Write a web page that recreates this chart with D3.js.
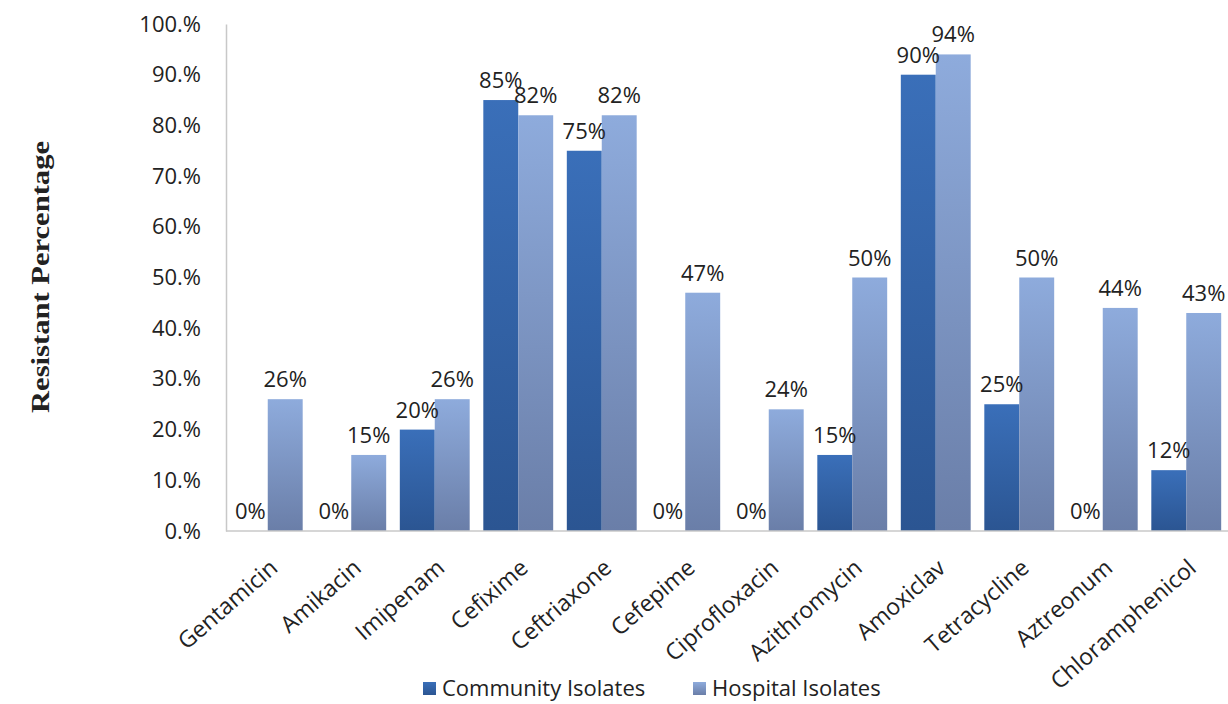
<!DOCTYPE html>
<html>
<head>
<meta charset="utf-8">
<script src="https://cdn.jsdelivr.net/npm/d3@7"></script>
<style>
  body { margin: 0; background: #fff; }
  text { font-family: "Open Sans", "DejaVu Sans", sans-serif; fill: #222; }
</style>
</head>
<body>
<svg id="chart"></svg>
<script>
// data
var drugs = ["Gentamicin", "Amikacin", "Imipenam", "Cefixime", "Ceftriaxone", "Cefepime",
  "Ciprofloxacin", "Azithromycin", "Amoxiclav", "Tetracycline", "Aztreonum", "Chloramphenicol"];
var community = [0, 0, 20, 85, 75, 0, 0, 15, 90, 25, 0, 12];
var hospital = [26, 15, 26, 82, 82, 47, 24, 50, 94, 50, 44, 43];
var seriesNames = ["Community Isolates", "Hospital Isolates"];
var yTicks = [0, 10, 20, 30, 40, 50, 60, 70, 80, 90, 100];

var width = 1228, height = 704;
var margin = {top: 24, right: 0, bottom: 173, left: 226};

var svg = d3.select("#chart").attr("width", width).attr("height", height);

// gradients -------------------------------------------------------
var defs = svg.append("defs");
var grads = [["gComm", "#3a6fb9", "#2b5592"], ["gHosp", "#8eabdc", "#6a7ea8"]];
grads.forEach(function(g) {
  var lg = defs.append("linearGradient").attr("id", g[0])
    .attr("x1", 0).attr("y1", 0).attr("x2", 0).attr("y2", 1);
  lg.append("stop").attr("offset", "0%").attr("stop-color", g[1]);
  lg.append("stop").attr("offset", "100%").attr("stop-color", g[2]);
});

// scales ----------------------------------------------------------
var x = d3.scaleBand()
  .domain(drugs)
  .range([margin.left, width - margin.right])
  .paddingInner(0)
  .paddingOuter(0);

var inner = d3.scaleBand()
  .domain([0, 1])
  .range([0, x.bandwidth()])
  .paddingOuter(0.195)
  .paddingInner(0);

var y = d3.scaleLinear()
  .domain([0, 100])
  .range([height - margin.bottom, margin.top]);

// y axis
var yAxis = svg.append("g")
  .attr("transform", "translate(" + margin.left + ",0)")
  .call(d3.axisLeft(y).tickValues(yTicks).tickSize(0).tickPadding(25)
    .tickFormat(function(d) { return d + ".%"; }));
yAxis.select(".domain").attr("stroke", "#c8c8c8").attr("stroke-width", 1.5);
yAxis.selectAll("text").style("font-size", "22px").attr("fill", "#222")
  .style("font-family", "'Open Sans', sans-serif");

// bars ------------------------------------------------------------
var rows = [];
drugs.forEach(function(d, i) {
  rows.push({drug: d, s: 0, v: community[i]});
  rows.push({drug: d, s: 1, v: hospital[i]});
});

svg.append("g").selectAll("rect")
  .data(rows.filter(function(r) { return r.v > 0; }))
  .enter().append("rect")
  .attr("x", function(r) { return x(r.drug) + inner(r.s); })
  .attr("y", function(r) { return y(r.v); })
  .attr("width", inner.bandwidth())
  .attr("height", function(r) { return y(0) - y(r.v); })
  .attr("fill", function(r) { return r.s === 0 ? "url(#gComm)" : "url(#gHosp)"; });

// x axis baseline
svg.append("line")
  .attr("x1", margin.left).attr("x2", width)
  .attr("y1", y(0)).attr("y2", y(0))
  .attr("stroke", "#c8c8c8").attr("stroke-width", 1.5);

// value labels
svg.append("g").selectAll("text")
  .data(rows)
  .enter().append("text")
  .attr("x", function(r) { return x(r.drug) + inner(r.s) + inner.bandwidth() / 2; })
  .attr("y", function(r) { return y(r.v) - 12; })
  .attr("text-anchor", "middle")
  .style("font-size", "22px")
  .text(function(r) { return r.v + "%"; });

// category labels rotated
svg.append("g").selectAll("text")
  .data(drugs)
  .enter().append("text")
  .attr("transform", function(d) {
    return "translate(" + (x(d) + x.bandwidth() / 2 + 6) + "," + (y(0) + 33) + ") rotate(-41)";
  })
  .attr("text-anchor", "end")
  .attr("dy", "0.35em")
  .style("font-size", "23px")
  .text(function(d) { return d; });

// y title
svg.append("text")
  .attr("transform", "translate(49,277) rotate(-90)")
  .attr("text-anchor", "middle")
  .attr("textLength", 272)
  .attr("lengthAdjust", "spacingAndGlyphs")
  .style("font-family", "'Liberation Serif', 'DejaVu Serif', serif")
  .style("font-weight", "bold")
  .style("font-size", "26px")
  .text("Resistant Percentage");

// legend
var legend = svg.append("g");
var legendX = [423, 693];
seriesNames.forEach(function(n, i) {
  legend.append("rect")
    .attr("x", legendX[i]).attr("y", 682)
    .attr("width", 13).attr("height", 13)
    .attr("fill", i === 0 ? "url(#gComm)" : "url(#gHosp)");
  legend.append("text")
    .attr("x", legendX[i] + 19).attr("y", 696)
    .style("font-size", "22px")
    .text(n);
});
</script>
</body>
</html>
